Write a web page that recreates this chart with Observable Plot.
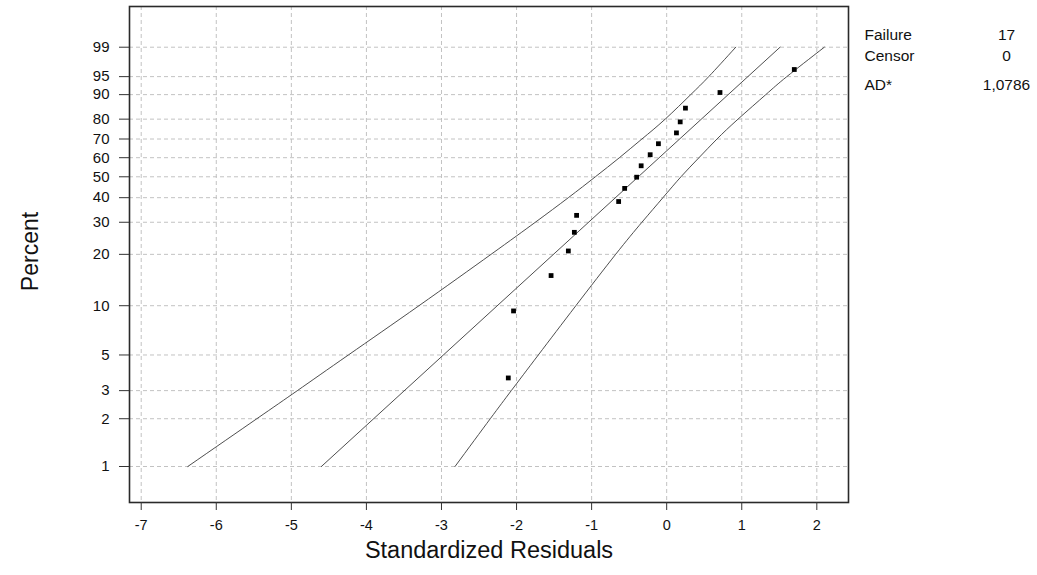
<!DOCTYPE html>
<html>
<head>
<meta charset="utf-8">
<script src="https://cdn.jsdelivr.net/npm/d3@7"></script>
<script src="https://cdn.jsdelivr.net/npm/@observablehq/plot@0.6"></script>
<style>
  html, body { margin: 0; padding: 0; background: #fff; }
  #chart { width: 1037px; height: 575px; }
</style>
</head>
<body>
<div id="chart"></div>
<script>
// ---- Data ----
const xTicks = [-7, -6, -5, -4, -3, -2, -1, 0, 1, 2];
const yTickPercents = [1, 2, 3, 5, 10, 20, 30, 40, 50, 60, 70, 80, 90, 95, 99];

// Observed standardized residuals and their plotted percents
const residuals = [-2.11, -2.04, -1.54, -1.31, -1.23, -1.20, -0.64, -0.56, -0.40, -0.34, -0.22, -0.11, 0.13, 0.18, 0.25, 0.71, 1.70];
const percents  = [3.6, 9.3, 15.1, 20.9, 26.5, 32.6, 38.3, 44.3, 49.8, 55.7, 61.6, 67.5, 73.2, 78.7, 84.9, 90.7, 96.4];

// Fitted line (percent at each end, residual at each end)
const fitPercents = [1, 99];
const fitResiduals = [-4.60, 1.51];

// Confidence band, read at each percent gridline
const bandPercents = [1, 2, 3, 5, 10, 20, 30, 40, 50, 60, 70, 80, 90, 95, 99];
const bandLower = [-6.38, -5.46, -4.92, -4.24, -3.30, -2.34, -1.75, -1.31, -0.95, -0.63, -0.33, -0.02, 0.32, 0.56, 0.92];
const bandUpper = [-2.82, -2.35, -2.07, -1.71, -1.21, -0.68, -0.33, -0.05, 0.19, 0.43, 0.67, 0.95, 1.32, 1.60, 2.10];

// Summary table
const statLabels = ["Failure", "Censor", "AD*"];
const statValues = ["17", "0", "1,0786"];

// ---- Probability-paper (smallest extreme value) transform ----
const sev = p => Math.log(-Math.log(1 - p / 100));

const pts = residuals.map((r, i) => ({x: r, y: sev(percents[i])}));
const fit = fitResiduals.map((r, i) => ({x: r, y: sev(fitPercents[i])}));
const lower = bandLower.map((r, i) => ({x: r, y: sev(bandPercents[i])}));
const upper = bandUpper.map((r, i) => ({x: r, y: sev(bandPercents[i])}));

const yTicks = yTickPercents.map(sev);
const yLabel = new Map(yTicks.map((t, i) => [t, String(yTickPercents[i])]));

const W = 1037, H = 575;
const ML = 129, MR = 189, MT = 6, MB = 73;
const font = "Arial, 'Liberation Sans', sans-serif";
const lineColor = "#3a3a3a";
const gridColor = "#c2c2c2";

const statYs = [28, 49, 78];

const marks = [
  Plot.gridX(xTicks, {stroke: gridColor, strokeOpacity: 1, strokeDasharray: "4,3", strokeWidth: 1}),
  Plot.gridY(yTicks, {stroke: gridColor, strokeOpacity: 1, strokeDasharray: "4,3", strokeWidth: 1}),
  Plot.line(lower, {x: "x", y: "y", curve: "natural", stroke: lineColor, strokeWidth: 0.9}),
  Plot.line(upper, {x: "x", y: "y", curve: "natural", stroke: lineColor, strokeWidth: 0.9}),
  Plot.line(fit, {x: "x", y: "y", stroke: lineColor, strokeWidth: 0.9}),
  Plot.dot(pts, {x: "x", y: "y", symbol: "square", r: 2.7, fill: "#000", stroke: "none"}),
  Plot.frame({stroke: "#2a2a2a", strokeWidth: 1.6}),
  Plot.axisX(xTicks, {tickSize: 8, tickPadding: 9, fontSize: 14.5, label: null, stroke: "#333", fill: "#111", tickFormat: d => String(d)}),
  Plot.axisY(yTicks, {tickSize: 10, tickPadding: 10, fontSize: 15, label: null, stroke: "#333", fill: "#111", tickFormat: d => yLabel.get(d)}),
  Plot.text(["Standardized Residuals"], {frameAnchor: "bottom", dy: 55, fontSize: 23.5, fill: "#111"}),
  Plot.text(["Percent"], {frameAnchor: "left", textAnchor: "middle", dx: -99, dy: -3, rotate: -90, fontSize: 23, fill: "#111"})
];
statLabels.forEach((s, i) => {
  marks.push(Plot.text([s], {frameAnchor: "top-right", dx: 16, dy: statYs[i] - MT, textAnchor: "start", fontSize: 15.5, fill: "#111"}));
  marks.push(Plot.text([statValues[i]], {frameAnchor: "top-right", dx: 1006 - (W - MR), dy: statYs[i] - MT, textAnchor: "middle", fontSize: 15.5, fill: "#111"}));
});

const chart = Plot.plot({
  width: W,
  height: H,
  marginLeft: ML,
  marginRight: MR,
  marginTop: MT,
  marginBottom: MB,
  style: {fontFamily: font, background: "#fff", color: "#111", overflow: "visible"},
  x: {domain: [-7.156, 2.422]},
  y: {domain: [-5.126, 2.122]},
  marks
});
document.getElementById("chart").appendChild(chart);
</script>
</body>
</html>
